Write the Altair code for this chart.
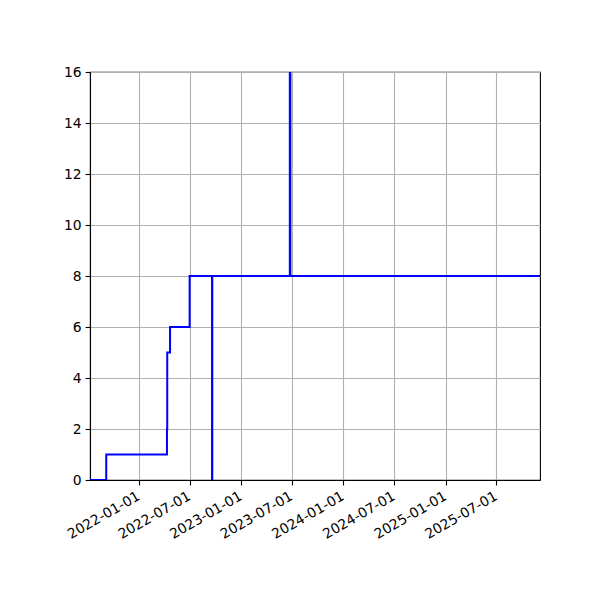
import altair as alt
import pandas as pd

dates = ["2021-07-10", "2021-09-06", "2022-04-11", "2022-04-12", "2022-04-22",
         "2022-07-01", "2022-09-19", "2022-09-20", "2023-06-24", "2023-06-26",
         "2025-12-04"]
values = [0, 1, 2, 5, 6, 8, 0, 8, 20, 8, 8]

tick_dates = [(2022, 1), (2022, 7), (2023, 1), (2023, 7), (2024, 1),
              (2024, 7), (2025, 1), (2025, 7)]

df = pd.DataFrame({"date": dates, "value": values})

font = "DejaVu Sans"

chart = alt.Chart(df).mark_line(
    color="#0000ff", strokeWidth=2, interpolate="step-after", clip=True
).encode(
    x=alt.X("date:T",
            scale=alt.Scale(type="utc", domain=[alt.DateTime(year=2021, month=7, date=10, utc=True),
                                                alt.DateTime(year=2025, month=12, date=4, utc=True)]),
            axis=alt.Axis(title=None,
                          values=[alt.DateTime(year=y, month=m, date=1, utc=True) for y, m in tick_dates],
                          format="%Y-%m-%d", labelAngle=-30, labelAlign="right",
                          labelBaseline="top", labelPadding=4, labelOffset=-4,
                          labelOverlap=False, labelBound=False, labelFlush=False)),
    y=alt.Y("value:Q",
            scale=alt.Scale(domain=[0, 16], nice=False, zero=False),
            axis=alt.Axis(title=None, values=list(range(0, 17, 2)), labelPadding=4)),
).properties(
    width=450, height=408,
    autosize=alt.AutoSizeParams(type="none"),
    padding={"left": 82, "top": 64, "right": 52, "bottom": 112},
).configure_view(
    stroke="black", strokeWidth=1.1
).configure_axis(
    grid=True, gridColor="#b0b0b0", gridWidth=1.1, gridOpacity=1,
    domainColor="black", domainWidth=1.1, tickColor="black", tickSize=4.9, tickWidth=1.1,
    labelFont=font, labelFontSize=13.9, labelColor="black",
)

chart.save("out.html", embed_options={"renderer": "svg", "actions": False})
